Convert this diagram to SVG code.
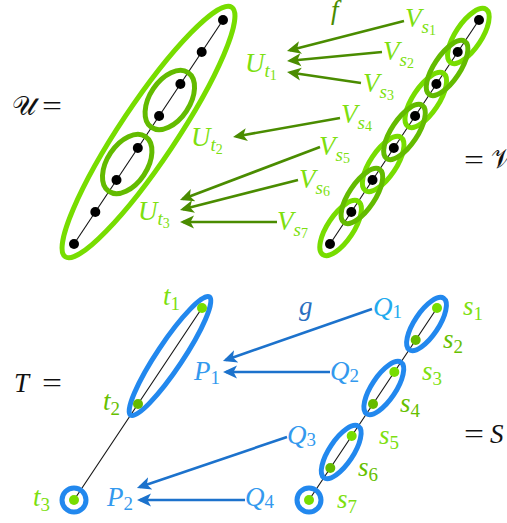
<svg xmlns="http://www.w3.org/2000/svg" width="507" height="523" viewBox="0 0 507 523" font-family="'Liberation Serif', 'DejaVu Serif', serif">
<style>
text{font-family:'Liberation Serif','DejaVu Serif',serif;font-size:27px}
.it{font-style:italic}
.sub{font-size:19px}
.ssub{font-size:14px}
.m{fill:#111}
.lg{fill:#7ddf10}
.dg{fill:#66c000}
.bl{fill:#3399ee}
.cy{fill:#22aaee}
.ell{fill:none;stroke-width:5}
.bright{stroke:#77dd00}
.dark{stroke:#63bb00}
.blue{stroke:#2288ee}
.path{stroke:#111;stroke-width:1.1}
.ga{stroke:#4a8c00;stroke-width:2.6;fill:none}
.ba{stroke:#1c72cc;stroke-width:2.6;fill:none}
.bd{fill:#000}
</style>
<defs>
<marker id="ag" markerUnits="userSpaceOnUse" markerWidth="16" markerHeight="16" viewBox="0 -8 16 16" refX="11" refY="0" orient="auto">
<path d="M14,0 L0,-6.5 L3.5,0 L0,6.5 Z" fill="#4a8c00"/>
</marker>
<marker id="ab" markerUnits="userSpaceOnUse" markerWidth="16" markerHeight="16" viewBox="0 -8 16 16" refX="11" refY="0" orient="auto">
<path d="M14,0 L0,-6.5 L3.5,0 L0,6.5 Z" fill="#1c72cc"/>
</marker>
</defs>

<!-- U set -->
<g id="U">
<text class="m" x="12" y="115" font-family="'DejaVu Serif', serif">𝒰</text>
<text class="m" x="42" y="115" textLength="20" lengthAdjust="spacingAndGlyphs">=</text>
<line class="path" x1="223" y1="20" x2="74" y2="244"/>
<ellipse class="ell bright" cx="148.5" cy="132" rx="150" ry="28" transform="rotate(-56.3 148.5 132)"/>
<ellipse class="ell dark" cx="169.8" cy="100" rx="33" ry="20" transform="rotate(-56.3 169.8 100)"/>
<ellipse class="ell dark" cx="127.2" cy="164" rx="33" ry="20" transform="rotate(-56.3 127.2 164)"/>
<g class="bd">
<circle cx="223" cy="20" r="5"/><circle cx="201.7" cy="52" r="5"/><circle cx="180.4" cy="84" r="5"/><circle cx="159.1" cy="116" r="5"/>
<circle cx="137.8" cy="148" r="5"/><circle cx="116.5" cy="180" r="5"/><circle cx="95.3" cy="212" r="5"/><circle cx="74" cy="244" r="5"/>
</g>
</g>

<!-- V set -->
<g id="V">
<text class="m" x="464" y="169" textLength="20" lengthAdjust="spacingAndGlyphs">=</text>
<text class="m" x="491" y="168" font-family="'DejaVu Serif', serif">𝒱</text>
<line class="path" x1="479" y1="20" x2="330" y2="244"/>
<ellipse class="ell bright" cx="468.4" cy="36" rx="32" ry="13" transform="rotate(-56.3 468.4 36)"/>
<ellipse class="ell bright" cx="425.8" cy="100" rx="32" ry="13" transform="rotate(-56.3 425.8 100)"/>
<ellipse class="ell bright" cx="383.2" cy="164" rx="32" ry="13" transform="rotate(-56.3 383.2 164)"/>
<ellipse class="ell bright" cx="340.6" cy="228" rx="32" ry="13" transform="rotate(-56.3 340.6 228)"/>
<ellipse class="ell dark" cx="447.1" cy="68" rx="32" ry="13" transform="rotate(-56.3 447.1 68)"/>
<ellipse class="ell dark" cx="404.5" cy="132" rx="32" ry="13" transform="rotate(-56.3 404.5 132)"/>
<ellipse class="ell dark" cx="361.9" cy="196" rx="32" ry="13" transform="rotate(-56.3 361.9 196)"/>
<g class="bd">
<circle cx="479" cy="20" r="5"/><circle cx="457.7" cy="52" r="5"/><circle cx="436.4" cy="84" r="5"/><circle cx="415.1" cy="116" r="5"/>
<circle cx="393.8" cy="148" r="5"/><circle cx="372.5" cy="180" r="5"/><circle cx="351.3" cy="212" r="5"/><circle cx="330" cy="244" r="5"/>
</g>
</g>

<!-- T tree -->
<g id="T">
<text class="m it" x="14" y="392">T</text>
<text class="m" x="42" y="392" textLength="20" lengthAdjust="spacingAndGlyphs">=</text>
<line class="path" x1="202" y1="308" x2="74" y2="500"/>
<ellipse class="ell blue" cx="170" cy="356" rx="71" ry="13" transform="rotate(-56.3 170 356)"/>
<circle class="ell blue" cx="74" cy="500" r="12"/>
<circle cx="202" cy="308" r="5" fill="#77dd00"/>
<circle cx="138" cy="404" r="5" fill="#66bb00"/>
<circle cx="74" cy="500" r="5" fill="#77dd00"/>
</g>

<!-- S tree -->
<g id="S">
<text class="m" x="464" y="443" textLength="20" lengthAdjust="spacingAndGlyphs">=</text>
<text class="m it" x="490" y="443">S</text>
<line class="path" x1="437" y1="308" x2="309" y2="500"/>
<ellipse class="ell blue" cx="426.5" cy="324" rx="31" ry="12" transform="rotate(-56.3 426.5 324)"/>
<ellipse class="ell blue" cx="383.8" cy="388" rx="31" ry="12" transform="rotate(-56.3 383.8 388)"/>
<ellipse class="ell blue" cx="341.2" cy="452" rx="31" ry="12" transform="rotate(-56.3 341.2 452)"/>
<circle class="ell blue" cx="309" cy="500" r="12"/>
<circle cx="437" cy="308" r="5" fill="#77dd00"/>
<circle cx="415.7" cy="340" r="5" fill="#66bb00"/>
<circle cx="394.3" cy="372" r="5" fill="#77dd00"/>
<circle cx="373" cy="404" r="5" fill="#66bb00"/>
<circle cx="351.7" cy="436" r="5" fill="#77dd00"/>
<circle cx="330.3" cy="468" r="5" fill="#66bb00"/>
<circle cx="309" cy="500" r="5" fill="#77dd00"/>
</g>

<!-- labels top -->
<g id="Ut1"><text class="lg" x="245" y="72"><tspan class="it">U</tspan><tspan class="sub it" dy="5">t</tspan><tspan class="ssub" dy="3">1</tspan></text></g>
<g id="Ut2"><text class="lg" x="191" y="146"><tspan class="it">U</tspan><tspan class="sub it" dy="5">t</tspan><tspan class="ssub" dy="3">2</tspan></text></g>
<g id="Ut3"><text class="lg" x="138" y="220"><tspan class="it">U</tspan><tspan class="sub it" dy="5">t</tspan><tspan class="ssub" dy="3">3</tspan></text></g>
<g id="Vs1"><text class="lg" x="405" y="27"><tspan class="it">V</tspan><tspan class="sub it" dy="6">s</tspan><tspan class="ssub" dy="2">1</tspan></text></g>
<g id="Vs2"><text class="lg" x="383" y="60"><tspan class="it">V</tspan><tspan class="sub it" dy="6">s</tspan><tspan class="ssub" dy="2">2</tspan></text></g>
<g id="Vs3"><text class="lg" x="363" y="92"><tspan class="it">V</tspan><tspan class="sub it" dy="6">s</tspan><tspan class="ssub" dy="2">3</tspan></text></g>
<g id="Vs4"><text class="lg" x="341" y="123"><tspan class="it">V</tspan><tspan class="sub it" dy="6">s</tspan><tspan class="ssub" dy="2">4</tspan></text></g>
<g id="Vs5"><text class="lg" x="319" y="155"><tspan class="it">V</tspan><tspan class="sub it" dy="6">s</tspan><tspan class="ssub" dy="2">5</tspan></text></g>
<g id="Vs6"><text class="lg" x="299" y="188"><tspan class="it">V</tspan><tspan class="sub it" dy="6">s</tspan><tspan class="ssub" dy="2">6</tspan></text></g>
<g id="Vs7"><text class="lg" x="277" y="230"><tspan class="it">V</tspan><tspan class="sub it" dy="6">s</tspan><tspan class="ssub" dy="2">7</tspan></text></g>
<g id="f"><text class="it" x="331" y="19" fill="#4a8c00">f</text></g>

<!-- labels bottom -->
<g id="lt1"><text class="lg" x="163" y="305"><tspan class="it">t</tspan><tspan class="sub" dy="5">1</tspan></text></g>
<g id="lt2"><text class="dg" x="103" y="410"><tspan class="it">t</tspan><tspan class="sub" dy="5">2</tspan></text></g>
<g id="lt3"><text class="lg" x="33" y="506"><tspan class="it">t</tspan><tspan class="sub" dy="5">3</tspan></text></g>
<g id="ls1"><text class="lg" x="463" y="315"><tspan class="it">s</tspan><tspan class="sub" dy="5">1</tspan></text></g>
<g id="ls2"><text class="dg" x="443" y="348"><tspan class="it">s</tspan><tspan class="sub" dy="5">2</tspan></text></g>
<g id="ls3"><text class="lg" x="422" y="380"><tspan class="it">s</tspan><tspan class="sub" dy="5">3</tspan></text></g>
<g id="ls4"><text class="dg" x="400" y="412"><tspan class="it">s</tspan><tspan class="sub" dy="5">4</tspan></text></g>
<g id="ls5"><text class="lg" x="379" y="444"><tspan class="it">s</tspan><tspan class="sub" dy="5">5</tspan></text></g>
<g id="ls6"><text class="dg" x="358" y="476"><tspan class="it">s</tspan><tspan class="sub" dy="5">6</tspan></text></g>
<g id="ls7"><text class="lg" x="337" y="508"><tspan class="it">s</tspan><tspan class="sub" dy="5">7</tspan></text></g>
<g id="P1"><text class="bl" x="194" y="380"><tspan class="it">P</tspan><tspan class="sub" dy="4">1</tspan></text></g>
<g id="P2"><text class="bl" x="107" y="506"><tspan class="it">P</tspan><tspan class="sub" dy="4">2</tspan></text></g>
<g id="Q1"><text class="cy" x="373" y="316"><tspan class="it">Q</tspan><tspan class="sub" dy="2">1</tspan></text></g>
<g id="Q2"><text class="bl" x="330" y="380"><tspan class="it">Q</tspan><tspan class="sub" dy="2">2</tspan></text></g>
<g id="Q3"><text class="bl" x="287" y="444"><tspan class="it">Q</tspan><tspan class="sub" dy="2">3</tspan></text></g>
<g id="Q4"><text class="bl" x="245" y="506"><tspan class="it">Q</tspan><tspan class="sub" dy="2">4</tspan></text></g>
<g id="g"><text class="it" x="299" y="315" fill="#2a6fc0">g</text></g>

<!-- connectors -->
<g id="connectors">
<line class="ga" x1="404" y1="21" x2="289.9" y2="50.3" marker-end="url(#ag)"/>
<line class="ga" x1="382" y1="52" x2="290" y2="60.7" marker-end="url(#ag)"/>
<line class="ga" x1="361" y1="83" x2="290" y2="72.5" marker-end="url(#ag)"/>
<line class="ga" x1="340" y1="118" x2="236" y2="136.5" marker-end="url(#ag)"/>
<line class="ga" x1="320" y1="147" x2="182.8" y2="199" marker-end="url(#ag)"/>
<line class="ga" x1="298" y1="180" x2="182.9" y2="209.3" marker-end="url(#ag)"/>
<line class="ga" x1="277" y1="222" x2="183" y2="222" marker-end="url(#ag)"/>
<line class="ba" x1="372" y1="309" x2="225.8" y2="360" marker-end="url(#ab)"/>
<line class="ba" x1="330" y1="372" x2="226" y2="372" marker-end="url(#ab)"/>
<line class="ba" x1="287" y1="437" x2="139.8" y2="487" marker-end="url(#ab)"/>
<line class="ba" x1="245" y1="500" x2="140" y2="500" marker-end="url(#ab)"/>
</g>
</svg>
